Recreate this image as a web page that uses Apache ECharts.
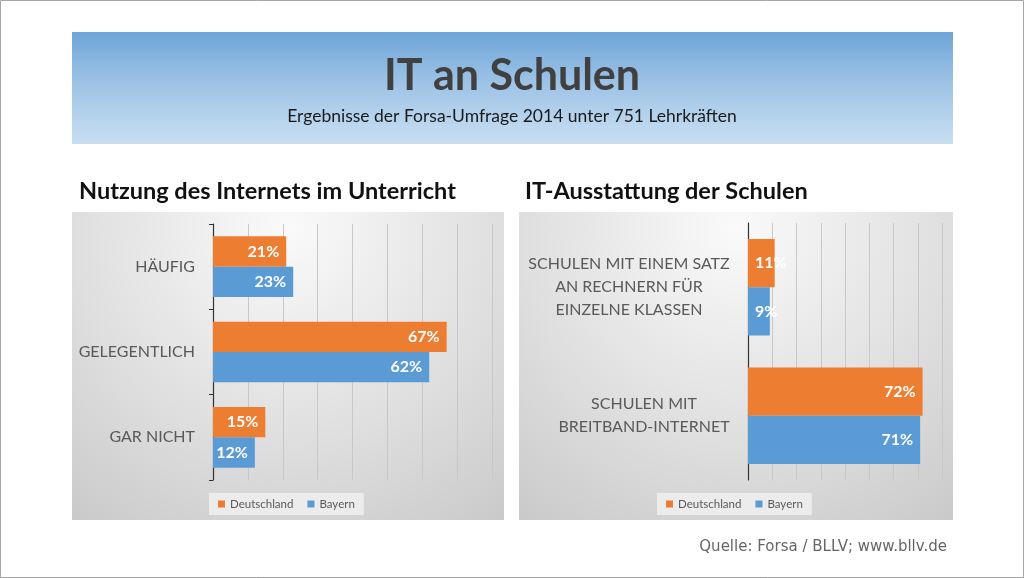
<!DOCTYPE html>
<html><head><meta charset="utf-8">
<script src="https://cdn.jsdelivr.net/npm/echarts@6/dist/echarts.min.js"></script>
<style>html,body{margin:0;padding:0;background:#fff}#c{width:1024px;height:578px}</style>
</head><body><div id="c"></div>
<script>
const mainTitle = 'IT an Schulen';
const subTitle = 'Ergebnisse der Forsa-Umfrage 2014 unter 751 Lehrkräften';
const leftTitle = 'Nutzung des Internets im Unterricht';
const rightTitle = 'IT-Ausstattung der Schulen';
const sourceText = 'Quelle: Forsa / BLLV; www.bllv.de';
const seriesNames = ['Deutschland', 'Bayern'];
const leftCategories = ['HÄUFIG', 'GELEGENTLICH', 'GAR NICHT'];
const leftDeutschland = [21, 67, 15];
const leftBayern = [23, 62, 12];
const rightCategories = ['SCHULEN MIT EINEM SATZ\nAN RECHNERN FÜR\nEINZELNE KLASSEN', 'SCHULEN MIT\nBREITBAND-INTERNET'];
const rightDeutschland = [11, 72];
const rightBayern = [9, 71];
const axisMin = 0, axisMax = 80, axisInterval = 10;

const ORANGE = '#ed7d31', BLUE = '#5b9bd5';
const FONT = 'Lato';
const LABEL_COLOR = '#595959';

const ctx = document.createElement('canvas').getContext('2d');
ctx.font = '16px ' + FONT;
const rightRich = {};
rightCategories.forEach((c, i) => {
  const w = Math.max(...c.split('\n').map(l => ctx.measureText(l).width));
  rightRich['r' + i] = {width: Math.ceil(w), align: 'center', fontSize: 16, fontFamily: FONT, color: LABEL_COLOR, lineHeight: 23};
});

function barSeries(name, values, idx, color, gap) {
  return {
    type: 'bar', name, xAxisIndex: idx, yAxisIndex: idx,
    data: values.map(v => (idx === 1 && v < 15) ? {value: v, label: {position: 'insideLeft'}} : v),
    barGap: '0%', barCategoryGap: gap,
    itemStyle: {color},
    label: {show: true, position: 'insideRight', distance: 7, formatter: '{c}%', color: '#fff', fontWeight: 'bold', fontSize: 16, fontFamily: FONT},
    emphasis: {disabled: true}
  };
}

function valueAxis(gridIndex) {
  return {type: 'value', gridIndex, min: axisMin, max: axisMax, interval: axisInterval,
    axisLabel: {show: false}, axisLine: {show: false}, axisTick: {show: false},
    splitLine: {show: true, lineStyle: {color: '#c8c8c8', width: 1}}};
}

const radial = () => ({type: 'radial', x: 0.5, y: 0.05, r: 1.2, colorStops: [
  {offset: 0, color: '#fafafa'}, {offset: 0.55, color: '#e0e0e0'}, {offset: 1, color: '#c9c9c9'}]});

const legendCommon = {
  data: seriesNames, icon: 'rect', itemWidth: 7, itemHeight: 7, itemGap: 14,
  padding: [5, 9, 5, 9], backgroundColor: 'rgba(240,240,240,0.85)', selectedMode: false,
  textStyle: {fontSize: 11.5, color: LABEL_COLOR, fontFamily: FONT}
};

const option = {
  animation: false,
  color: [ORANGE, BLUE],
  graphic: [
    {type: 'rect', z: -20, shape: {x: 0.5, y: 0.5, width: 1023, height: 577}, style: {fill: '#fff', stroke: '#a6a6a6', lineWidth: 1}},
    {type: 'rect', z: -10, shape: {x: 72, y: 32, width: 881, height: 112}, style: {fill: {type: 'linear', x: 0, y: 0, x2: 0, y2: 1, colorStops: [
      {offset: 0, color: '#6ea5d8'}, {offset: 0.45, color: '#9dc3e6'}, {offset: 1, color: '#c9dff2'}]}}},
    {type: 'rect', z: -10, shape: {x: 72, y: 212, width: 432, height: 308}, style: {fill: radial()}},
    {type: 'rect', z: -10, shape: {x: 519, y: 212, width: 434, height: 308}, style: {fill: radial()}}
  ],
  title: [
    {text: mainTitle, left: 'center', top: 50, textStyle: {fontSize: 43, fontWeight: 'bold', color: '#404040', fontFamily: FONT}},
    {text: subTitle, left: 'center', top: 102, textStyle: {fontSize: 17.5, fontWeight: 'normal', color: '#1a1a1a', fontFamily: FONT}},
    {text: leftTitle, left: 79, top: 179, padding: 0, textStyle: {fontSize: 23.5, fontWeight: 'bold', color: '#111', fontFamily: FONT}},
    {text: rightTitle, left: 525, top: 179, padding: 0, textStyle: {fontSize: 23.5, fontWeight: 'bold', color: '#111', fontFamily: FONT}},
    {text: sourceText, right: 77, top: 540, padding: 0, textStyle: {fontSize: 15, fontWeight: 'normal', color: '#666', fontFamily: 'DejaVu Sans'}}
  ],
  legend: [
    Object.assign({left: 209, top: 493}, legendCommon),
    Object.assign({left: 657, top: 493}, legendCommon)
  ],
  grid: [
    {left: 213, right: 532, top: 224, bottom: 98},
    {left: 748, right: 82, top: 223, bottom: 98}
  ],
  xAxis: [valueAxis(0), valueAxis(1)],
  yAxis: [
    {type: 'category', gridIndex: 0, data: leftCategories, inverse: true,
      axisLine: {show: true, lineStyle: {color: '#333', width: 1.2}},
      axisTick: {show: true, length: 4, lineStyle: {color: '#333'}},
      axisLabel: {interval: 0, margin: 18, fontSize: 16, fontFamily: FONT, color: LABEL_COLOR}},
    {type: 'category', gridIndex: 1, data: rightCategories, inverse: true,
      axisLine: {show: true, lineStyle: {color: '#333', width: 1.2}},
      axisTick: {show: false},
      axisLabel: {interval: 0, margin: 18, align: 'right', rich: rightRich,
        formatter: (v, i) => v.split('\n').map(l => '{r' + i + '|' + l + '}').join('\n')}}
  ],
  series: [
    barSeries(seriesNames[0], leftDeutschland, 0, ORANGE, '29%'),
    barSeries(seriesNames[1], leftBayern, 0, BLUE, '29%'),
    barSeries(seriesNames[0], rightDeutschland, 1, ORANGE, '25%'),
    barSeries(seriesNames[1], rightBayern, 1, BLUE, '25%')
  ]
};
const chart = echarts.init(document.getElementById('c'), null, {renderer: 'canvas'});
chart.setOption(option);
</script></body></html>
